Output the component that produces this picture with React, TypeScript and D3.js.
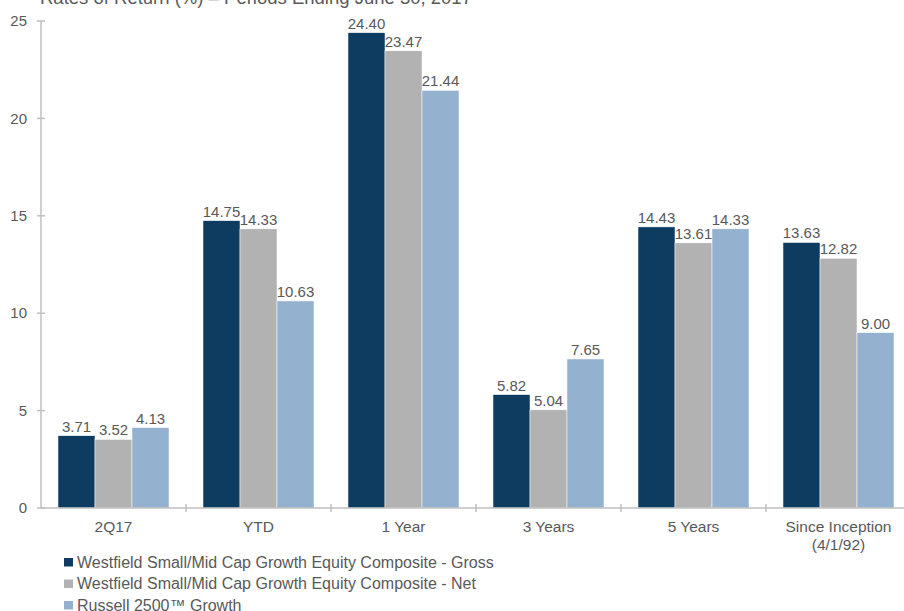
import React from "react";
import * as d3 from "d3";

const categories = ["2Q17", "YTD", "1 Year", "3 Years", "5 Years", "Since Inception\n(4/1/92)"];
const seriesNames = [
  "Westfield Small/Mid Cap Growth Equity Composite - Gross",
  "Westfield Small/Mid Cap Growth Equity Composite - Net",
  "Russell 2500™ Growth",
];
const gross = [3.71, 14.75, 24.4, 5.82, 14.43, 13.63];
const net = [3.52, 14.33, 23.47, 5.04, 13.61, 12.82];
const russell = [4.13, 10.63, 21.44, 7.65, 14.33, 9.0];
const yTicks = [0, 5, 10, 15, 20, 25];
const colors = ["#0E3C61", "#B2B2B2", "#95B1D0"];
const title = "Rates of Return (%) \u2013 Periods Ending June 30, 2017";

export default function App() {
  const W = 904, H = 611;
  const x0 = 41, bandW = 145;
  const x = d3.scaleBand<string>().domain(categories).range([x0, x0 + bandW * categories.length]).paddingInner(0).paddingOuter(0);
  const y = d3.scaleLinear().domain([0, 25]).range([508, 21]);
  const inner = d3.scaleBand<number>().domain([0, 1, 2]).range([17, bandW - 17]);
  const series = [gross, net, russell];
  const txt = "#595959";
  const font = "'Liberation Sans', Arial, sans-serif";
  return (
    <svg width={W} height={H} style={{ position: "absolute", left: 0, top: 0, background: "#fff" }} fontFamily={font}>
      <text x={40} y={4} fontSize={18.5} fill={txt}>{title}</text>
      {/* y axis */}
      <line x1={x0} x2={x0} y1={y(25)} y2={y(0)} stroke="#BFBFBF" strokeWidth={1.5} />
      {yTicks.map((t) => (
        <g key={t}>
          <line x1={37} x2={45} y1={y(t)} y2={y(t)} stroke="#BFBFBF" strokeWidth={1.5} />
          <text x={27} y={y(t)} dy="0.35em" textAnchor="end" fontSize={15} fill={txt}>{t}</text>
        </g>
      ))}
      {/* bars */}
      {categories.map((c, ci) => (
        <g key={c}>
          {series.map((s, si) => {
            const bx = (x(c) as number) + (inner(si) as number);
            const bw = inner.bandwidth();
            return (
              <g key={si}>
                <rect x={bx} y={y(s[ci])} width={bw} height={y(0) - y(s[ci])} fill={colors[si]} stroke="#fff" strokeWidth={0.5} />
                <text x={bx + bw / 2} y={y(s[ci]) - 4} textAnchor="middle" fontSize={15} fill={txt}>{s[ci].toFixed(2)}</text>
              </g>
            );
          })}
        </g>
      ))}
      {/* x axis */}
      <line x1={x0} x2={W} y1={y(0)} y2={y(0)} stroke="#BFBFBF" strokeWidth={1.5} />
      {categories.map((c, ci) => (
        <g key={c}>
          {ci > 0 && <line x1={x(c)} x2={x(c)} y1={y(0) - 4} y2={y(0) + 4} stroke="#BFBFBF" strokeWidth={1.5} />}
          {c.split("\n").map((ln, li) => (
            <text key={li} x={(x(c) as number) + bandW / 2} y={532 + li * 18} textAnchor="middle" fontSize={15.5} fill={txt}>{ln}</text>
          ))}
        </g>
      ))}
      {/* legend */}
      {seriesNames.map((n, i) => (
        <g key={n}>
          <rect x={64} y={558 + i * 21.5} width={9} height={8.5} fill={colors[i]} />
          <text x={77} y={567.5 + i * 21.5} fontSize={16} fill={txt}>{n}</text>
        </g>
      ))}
    </svg>
  );
}
